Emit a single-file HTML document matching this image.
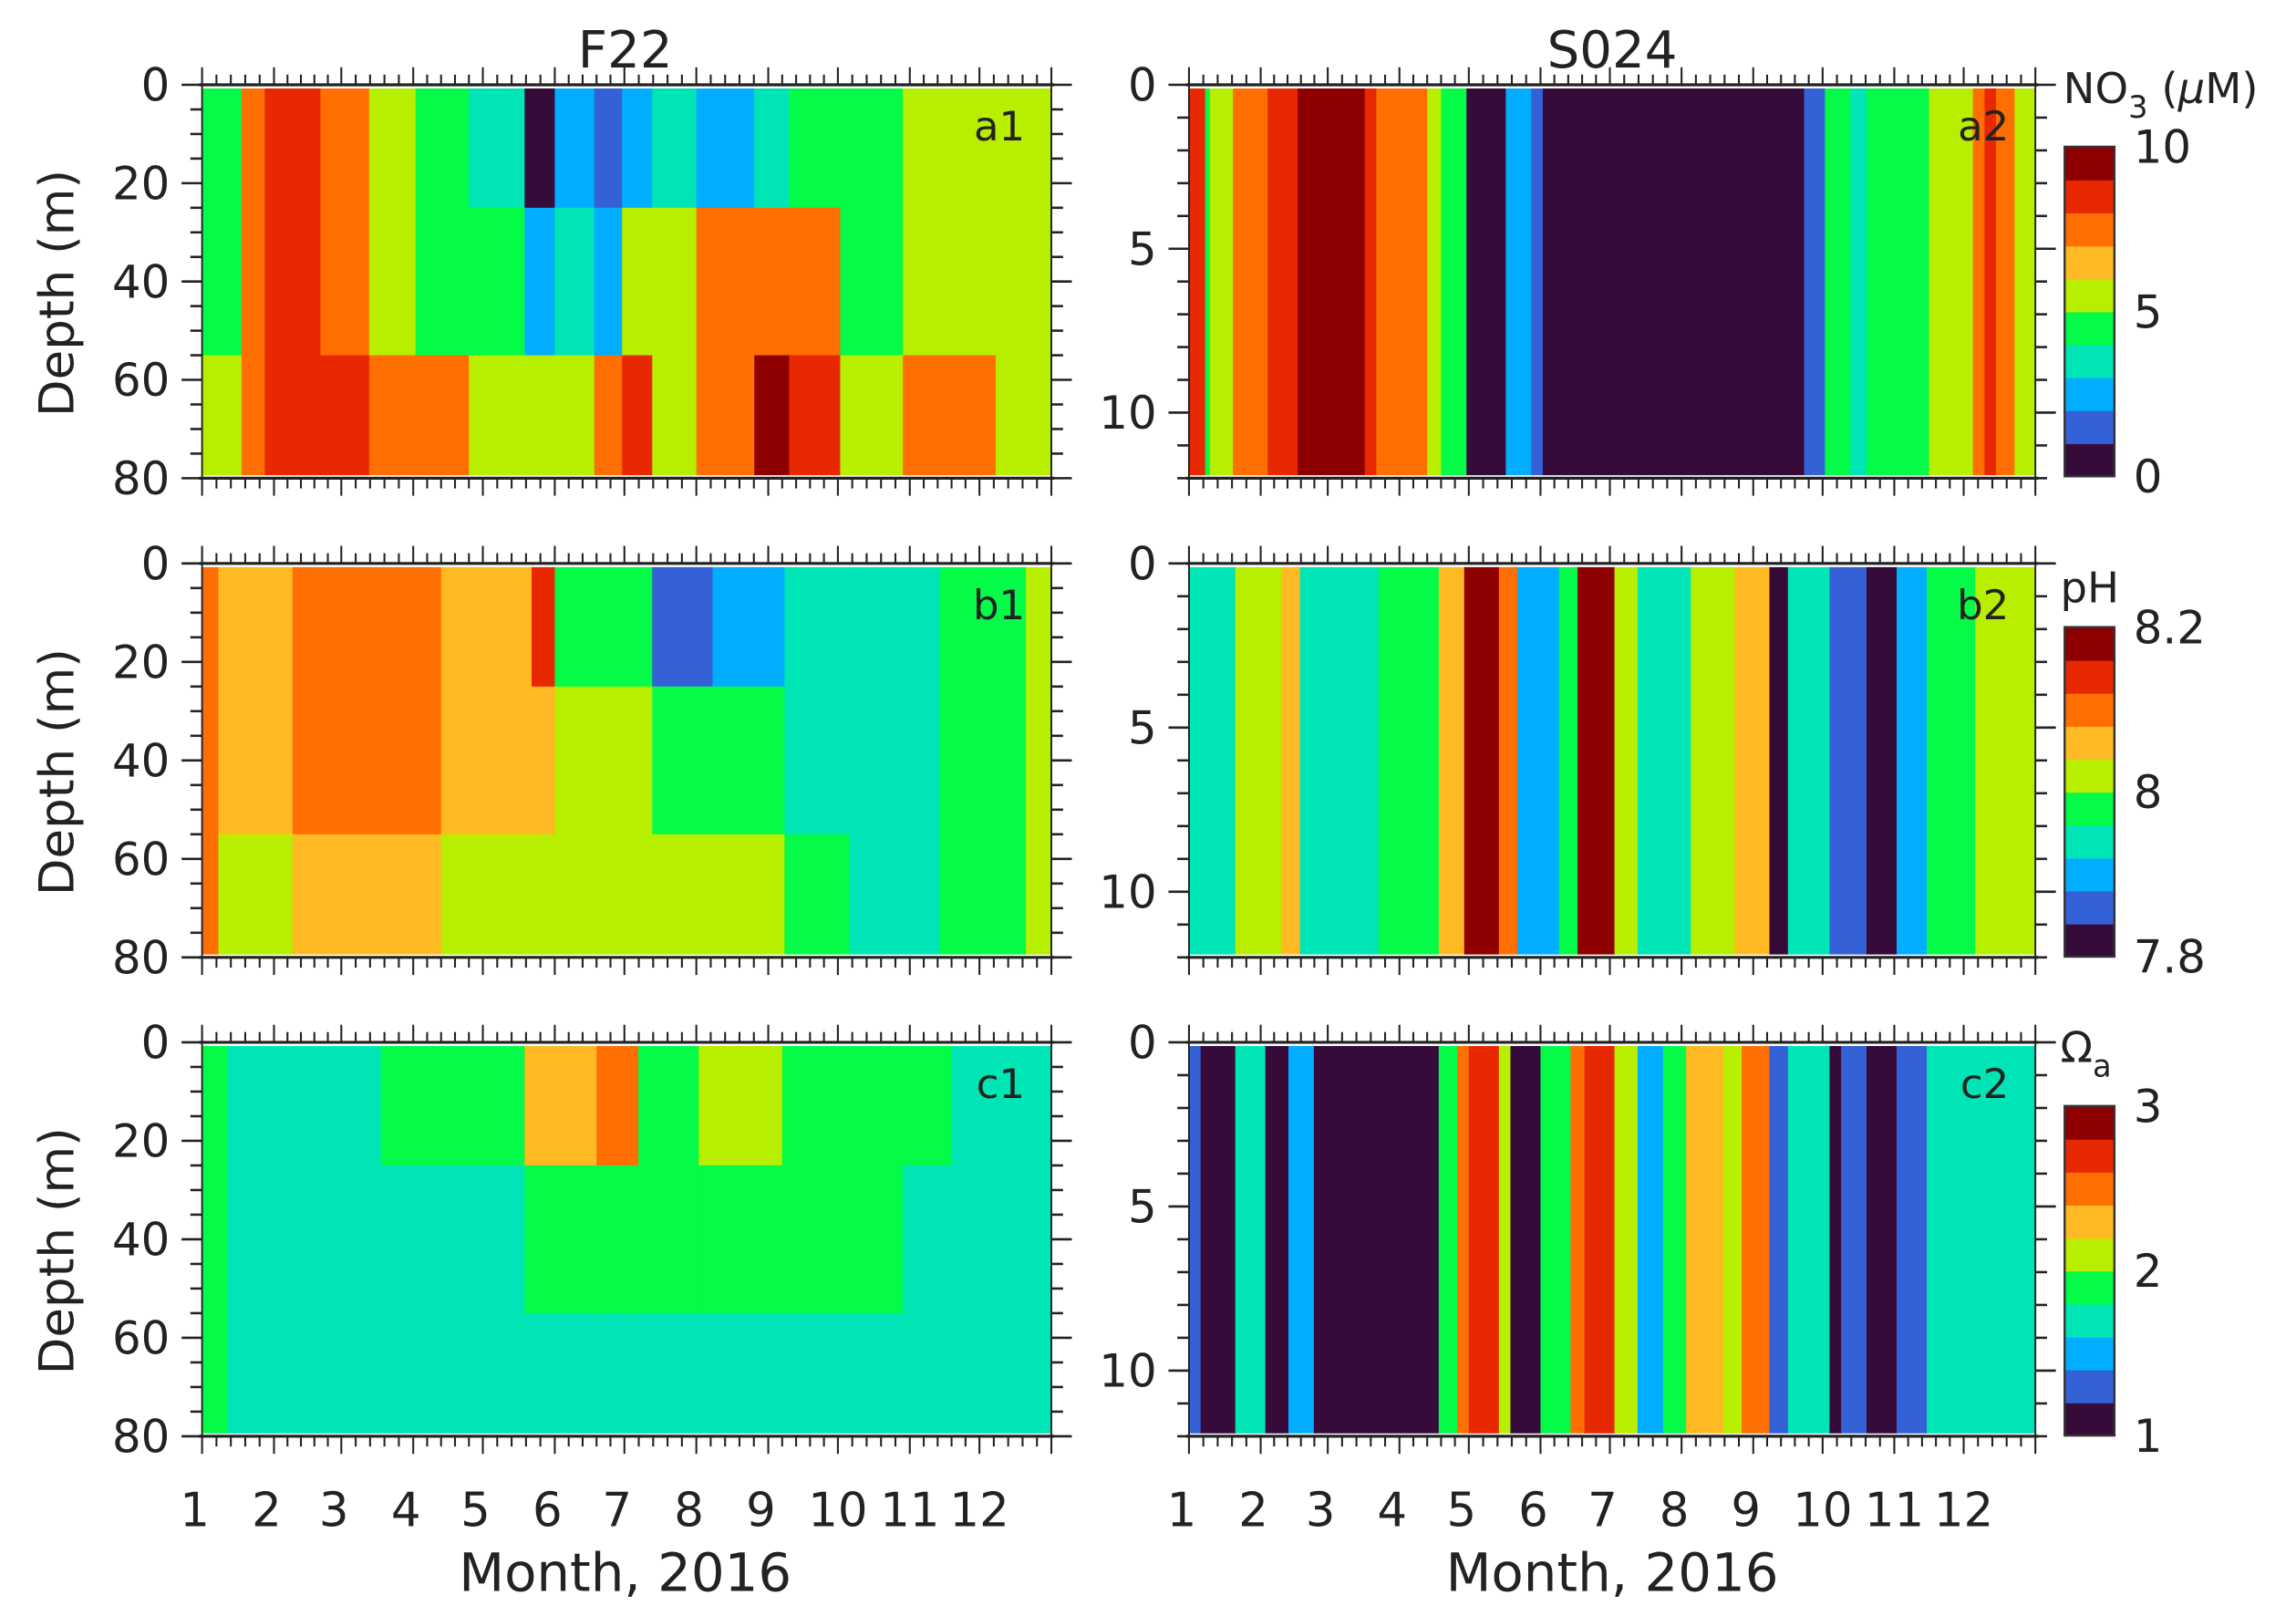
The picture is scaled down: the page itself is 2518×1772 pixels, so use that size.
<!DOCTYPE html>
<html><head><meta charset="utf-8">
<style>
html,body{margin:0;padding:0;background:#fff;}
body{position:relative;}
svg{display:block;}
text{font-family:"DejaVu Sans","Liberation Sans",sans-serif;fill:#222;}
</style></head>
<body>
<svg id="fig" xmlns="http://www.w3.org/2000/svg" width="2518" height="1772" viewBox="0 0 1568 1103">
<rect x="0" y="0" width="1568" height="1103" fill="#fff"/>
</svg>
<script>
// ---- data (day-of-year segment starts and contour level indices 0..9) ----
const a1Starts = [0,17,27,51,72,92,115,139,152,169,181,194,213,238,253,275,302,342];
const a1Top    = [4,7,8,7,5,4,3,0,2,1,2,3,2,3,4,4,5,5];
const a1Mid    = [4,7,8,7,5,4,4,2,3,2,5,5,7,7,7,4,5,5];
const a1Bot    = [5,7,8,8,7,7,5,5,5,7,8,5,7,9,8,5,7,5];

const a2Starts = [0,7,9,19,34,47,76,81,103,109,120,137,148,153,266,275,286,293,320,339,344,349,357];
const a2Levels = [8,4,5,7,8,9,8,7,5,4,0,2,1,0,1,4,3,4,5,7,8,7,5];

const b1Starts = [0,7,39,103,142,152,194,220,251,279,318,355];
const b1Top    = [7,6,7,6,8,4,1,2,3,3,4,5];
const b1Mid    = [7,6,7,6,6,5,4,4,3,3,4,5];
const b1Bot    = [7,5,6,5,5,5,5,5,4,3,4,5];

const b2Starts = [0,20,40,48,82,108,119,134,142,160,168,184,194,217,236,251,259,277,293,306,319,340];
const b2Levels = [3,5,6,3,4,6,9,7,2,4,9,5,3,5,6,0,3,1,0,2,4,5];

const c1Starts = [0,11,77,139,170,188,214,250,302,323];
const c1Top    = [4,3,4,6,7,4,5,4,4,3];
const c1Mid    = [4,3,3,4,4,4,4,4,3,3];
const c1Bot    = [4,3,3,3,3,3,3,3,3,3];

const c2Starts = [0,5,20,33,43,54,108,116,121,134,139,152,165,171,184,194,205,215,231,239,251,259,277,282,293,306,319];
const c2Levels = [1,0,3,0,2,0,4,7,8,5,0,4,7,8,5,2,4,6,5,7,1,3,0,1,0,1,3];

const monthLabels = ["1","2","3","4","5","6","7","8","9","10","11","12"];
const monthStarts = [0,31,60,91,121,152,182,213,244,274,305,335,366];
const leftDepthTicks = [0,20,40,60,80];
const rightDepthTicks = [0,5,10];
const cbarA = ["10","5","0"];
const cbarB = ["8.2","8","7.8"];
const cbarC = ["3","2","1"];

const palette = ["#360b3a","#3461d6","#00adff","#00e5b5","#04fb48","#b8ee00","#ffb922","#ff6e00","#e82800","#8e0000"];

const NS = "http://www.w3.org/2000/svg";
const svg = document.getElementById("fig");
function mk(tag, attrs, parent){
  const e = document.createElementNS(NS, tag);
  for (const k in attrs) e.setAttribute(k, attrs[k]);
  (parent||svg).appendChild(e);
  return e;
}
const cols = {L:[138,718], R:[812,1390]};
const rows = {a:[57.7,326.3], b:[384.5,653.5], c:[711.5,980.5]};
const INK = "#222";

function xScale(col, day){ const c = cols[col]; return c[0] + (c[1]-c[0]) * day / 366; }
function yScale(row, maxD, d){ const r = rows[row]; return r[0] + (r[1]-r[0]) * d / maxD; }

function drawPanel(name, col, row, maxD, starts, layers, layerDepths){
  const g = mk("g", {});
  
  
  const r = rows[row], c = cols[col];
  const clipId = "clip-" + name;
  const cp = mk("clipPath", {id: clipId}, g);
  mk("rect", {x:c[0], y:r[0]+2.5, width:c[1]-c[0], height:(r[1]-r[0])-4.5}, cp);
  const dg = mk("g", {"clip-path":"url(#"+clipId+")"}, g);
  for (let li=0; li<layers.length; li++){
    const vals = layers[li];
    const y0 = yScale(row, maxD, layerDepths[li]);
    const y1 = yScale(row, maxD, layerDepths[li+1]);
    for (let i=0;i<starts.length;i++){
      const s = starts[i], e = (i+1<starts.length)? starts[i+1] : 366;
      const x0 = xScale(col, s), x1 = xScale(col, e);
      const rc = mk("rect", {x:x0, y:y0, width:(x1-x0)+0.6, height:(y1-y0)+0.6, fill:palette[vals[i]]}, dg);
      
      
    }
  }
  mk("line",{x1:c[0]-2,y1:r[0],x2:c[1]+2,y2:r[0],stroke:INK,"stroke-width":2},g);
  mk("line",{x1:c[0]-2,y1:r[1],x2:c[1]+2,y2:r[1],stroke:INK,"stroke-width":2},g);
  mk("line",{x1:c[0],y1:r[0],x2:c[0],y2:r[1],stroke:INK,"stroke-width":1.2},g);
  mk("line",{x1:c[1],y1:r[0],x2:c[1],y2:r[1],stroke:INK,"stroke-width":1.2},g);
  for (let m=0;m<12;m++){
    const s = monthStarts[m], e = monthStarts[m+1];
    for (let k=0;k<5;k++){
      const d = s + (e-s)*k/5;
      const x = xScale(col, d);
      const L = k===0 ? 12 : 7;
      mk("line",{x1:x,y1:r[0],x2:x,y2:r[0]-L,stroke:INK,"stroke-width":1.3},g);
      mk("line",{x1:x,y1:r[1],x2:x,y2:r[1]+L,stroke:INK,"stroke-width":1.3},g);
    }
  }
  const xe = xScale(col,366);
  mk("line",{x1:xe,y1:r[0],x2:xe,y2:r[0]-12,stroke:INK,"stroke-width":1.3},g);
  mk("line",{x1:xe,y1:r[1],x2:xe,y2:r[1]+12,stroke:INK,"stroke-width":1.3},g);
  const minorStep = col==="L" ? 5 : 1;
  const majorStep = col==="L" ? 20 : 5;
  for (let d=0; d<=maxD+0.001; d+=minorStep){
    const y = yScale(row, maxD, d);
    const L = (d % majorStep === 0) ? 14 : 8;
    mk("line",{x1:c[0],y1:y,x2:c[0]-L,y2:y,stroke:INK,"stroke-width":1.6},g);
    mk("line",{x1:c[1],y1:y,x2:c[1]+L,y2:y,stroke:INK,"stroke-width":1.6},g);
  }
  const ticks = col==="L" ? leftDepthTicks : rightDepthTicks;
  for (const t of ticks){
    const tx = mk("text",{x:c[0]-22,y:yScale(row,maxD,t)+11,"font-size":31,"text-anchor":"end"},g);
    tx.textContent = t;
    
    
  }
  if (row==="c"){
    for (let m=0;m<12;m++){
      const lab = monthLabels[m];
      const off = lab.length===1 ? -5 : 0;
      const tx = mk("text",{x:xScale(col,monthStarts[m])+off,y:1042,"font-size":32,"text-anchor":"middle"},g);
      tx.textContent = lab;
      
      
    }
  }
  const pl = mk("text",{x:c[1]-18,y:r[0]+38,"font-size":28,"text-anchor":"end"},g);
  pl.textContent = name;
  
  
}

const LD = [0,25,55,80];
drawPanel("a1","L","a",80,a1Starts,[a1Top,a1Mid,a1Bot],LD);
drawPanel("a2","R","a",12,a2Starts,[a2Levels],[0,12]);
drawPanel("b1","L","b",80,b1Starts,[b1Top,b1Mid,b1Bot],LD);
drawPanel("b2","R","b",12,b2Starts,[b2Levels],[0,12]);
drawPanel("c1","L","c",80,c1Starts,[c1Top,c1Mid,c1Bot],LD);
drawPanel("c2","R","c",12,c2Starts,[c2Levels],[0,12]);

function colorbar(name, y0, y1, labels){
  const g = mk("g",{});
  
  
  const x0 = 1410, w = 34, h = (y1-y0)/10;
  for (let i=0;i<10;i++){
    mk("rect",{x:x0,y:y1-(i+1)*h,width:w,height:h+0.5,fill:palette[i]},g);
  }
  mk("rect",{x:x0,y:y0,width:w,height:y1-y0,fill:"none",stroke:"#333","stroke-width":1.5},g);
  const ys = [y0+11, (y0+y1)/2+11, y1+11];
  for (let i=0;i<3;i++){
    const t = mk("text",{x:1457,y:ys[i],"font-size":31},g);
    t.textContent = labels[i];
    
    
  }
}
colorbar("colorbar-no3",100,325,cbarA);
colorbar("colorbar-ph",428,653,cbarB);
colorbar("colorbar-omega",755,980,cbarC);
</script>
<svg style="position:absolute;left:0;top:0" width="2518" height="1772" viewBox="0 0 1568 1103">
<text x="427" y="46" font-size="35" text-anchor="middle">F22</text>
<text x="1101" y="46" font-size="35" text-anchor="middle">S024</text>
<text transform="translate(50,200) rotate(-90)" font-size="33" text-anchor="middle">Depth (m)</text>
<text transform="translate(50,527) rotate(-90)" font-size="33" text-anchor="middle">Depth (m)</text>
<text transform="translate(50,854) rotate(-90)" font-size="33" text-anchor="middle">Depth (m)</text>
<text x="427" y="1086" font-size="36" text-anchor="middle">Month, 2016</text>
<text x="1101" y="1086" font-size="36" text-anchor="middle">Month, 2016</text>
<text x="1409" y="70" font-size="29">NO<tspan font-size="21" dy="10">3</tspan><tspan dy="-10"> (</tspan><tspan font-style="italic">μ</tspan>M)</text>
<text x="1407" y="411" font-size="29">pH</text>
<text x="1407" y="725" font-size="29">Ω<tspan font-size="21" dy="10">a</tspan></text>
</svg>
</body></html>
